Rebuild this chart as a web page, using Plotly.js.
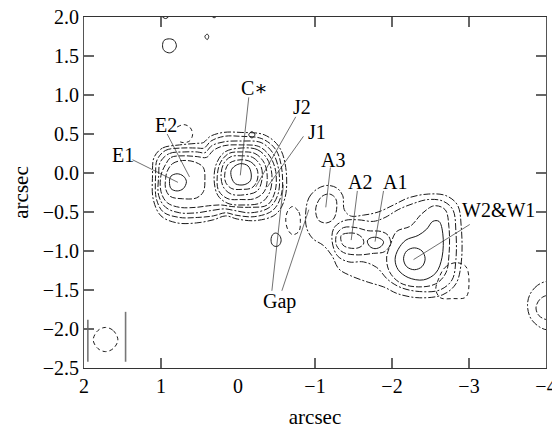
<!DOCTYPE html>
<html><head><meta charset="utf-8">
<script src="https://cdn.plot.ly/plotly-3.0.1.min.js"></script>
<style>html,body{margin:0;padding:0;background:#fff}#plot{width:552px;height:429px}</style>
</head><body><div id="plot"></div>
<script>
// ---- contour lines (arcsec) ----
// C* core and its nested contours
const c1X=[-0.04,-0.13,-0.17,-0.16,-0.08,0.03,0.08,0.09,0.04,-0.04];
const c1Y=[0.12,0.09,0.00,-0.10,-0.15,-0.14,-0.07,0.03,0.09,0.12];
const c2X=[-0.04,-0.17,-0.25,-0.25,-0.18,-0.05,0.08,0.16,0.17,0.12,-0.04];
const c2Y=[0.17,0.14,0.04,-0.09,-0.19,-0.21,-0.20,-0.12,0.00,0.12,0.17];
const c3X=[-0.04,-0.19,-0.30,-0.31,-0.25,-0.08,0.09,0.19,0.22,0.18,0.09,-0.04];
const c3Y=[0.22,0.20,0.08,-0.09,-0.23,-0.28,-0.27,-0.18,-0.02,0.13,0.21,0.22];
const c4X=[-0.04,-0.22,-0.34,-0.38,-0.34,-0.21,-0.04,0.13,0.25,0.27,0.23,0.12,-0.04];
const c4Y=[0.27,0.25,0.13,-0.06,-0.24,-0.33,-0.34,-0.33,-0.23,-0.05,0.13,0.25,0.27];
const c5X=[-0.04,-0.25,-0.38,-0.44,-0.41,-0.30,-0.08,0.13,0.26,0.31,0.28,0.17,-0.04];
const c5Y=[0.32,0.30,0.18,-0.02,-0.25,-0.38,-0.41,-0.39,-0.29,-0.09,0.12,0.27,0.32];
// contours enclosing both E and C
const s1X=[0.94,0.87,0.70,0.53,0.41,0.32,0.18,-0.04,-0.27,-0.41,-0.49,-0.48,-0.38,-0.14,0.08,0.22,0.38,0.54,0.76,0.92,1.00,1.00,0.94];
const s1Y=[0.11,0.20,0.22,0.21,0.20,0.29,0.35,0.36,0.34,0.22,0.02,-0.24,-0.41,-0.44,-0.43,-0.41,-0.42,-0.44,-0.44,-0.38,-0.24,-0.03,0.11];
const s2X=[1.01,0.89,0.70,0.53,0.43,0.34,0.18,-0.04,-0.30,-0.45,-0.53,-0.52,-0.41,-0.17,0.05,0.17,0.34,0.53,0.76,0.94,1.03,1.03,1.01];
const s2Y=[0.14,0.25,0.27,0.27,0.26,0.35,0.40,0.41,0.39,0.26,0.03,-0.27,-0.44,-0.51,-0.48,-0.46,-0.48,-0.51,-0.51,-0.44,-0.29,-0.03,0.14];
const s3X=[1.05,0.94,0.74,0.53,0.44,0.35,0.18,-0.04,-0.31,-0.49,-0.57,-0.56,-0.45,-0.21,0.03,0.16,0.32,0.53,0.76,0.97,1.06,1.07,1.05];
const s3Y=[0.17,0.29,0.32,0.32,0.32,0.41,0.47,0.47,0.44,0.30,0.04,-0.29,-0.48,-0.56,-0.54,-0.51,-0.55,-0.57,-0.57,-0.50,-0.33,-0.03,0.17];
const s4X=[1.09,0.98,0.76,0.54,0.45,0.36,0.19,-0.04,-0.34,-0.53,-0.62,-0.61,-0.49,-0.23,0.01,0.16,0.32,0.54,0.79,1.00,1.10,1.11,1.09];
const s4Y=[0.20,0.32,0.36,0.38,0.39,0.47,0.52,0.52,0.49,0.34,0.07,-0.32,-0.53,-0.61,-0.59,-0.55,-0.60,-0.64,-0.64,-0.55,-0.34,-0.03,0.20];
// E1 / E2
const e1X=[0.79,0.71,0.67,0.71,0.79,0.87,0.89,0.87,0.79];
const e1Y=[-0.01,-0.04,-0.11,-0.20,-0.23,-0.20,-0.11,-0.04,-0.01];
const e2X=[0.92,0.85,0.72,0.56,0.45,0.43,0.45,0.54,0.72,0.88,0.94,0.94,0.92];
const e2Y=[0.02,0.12,0.16,0.14,0.07,-0.09,-0.24,-0.32,-0.33,-0.30,-0.20,-0.07,0.02];
// A3, A2, A1
const a3X=[-1.02,-1.09,-1.19,-1.27,-1.28,-1.24,-1.15,-1.05,-1.01,-1.02];
const a3Y=[-0.41,-0.30,-0.27,-0.33,-0.47,-0.59,-0.64,-0.61,-0.51,-0.41];
const a2X=[-1.34,-1.44,-1.54,-1.62,-1.63,-1.56,-1.44,-1.36,-1.34];
const a2Y=[-0.80,-0.77,-0.78,-0.84,-0.91,-0.96,-0.96,-0.92,-0.80];
const a1X=[-1.68,-1.73,-1.82,-1.89,-1.86,-1.78,-1.71,-1.68];
const a1Y=[-0.87,-0.83,-0.83,-0.88,-0.94,-0.97,-0.94,-0.87];
const aw0X=[-1.28,-1.37,-1.53,-1.69,-1.86,-1.95,-1.98,-1.90,-1.76,-1.56,-1.37,-1.28,-1.28];
const aw0Y=[-0.79,-0.70,-0.70,-0.74,-0.75,-0.80,-0.91,-1.01,-1.03,-1.05,-1.02,-0.93,-0.79];
const aw1X=[-1.22,-1.25,-1.38,-1.56,-1.76,-1.91,-2.08,-2.28,-2.47,-2.66,-2.79,-2.83,-2.83,-2.78,-2.62,-2.36,-2.12,-1.95,-1.80,-1.63,-1.44,-1.29,-1.22];
const aw1Y=[-0.85,-0.70,-0.61,-0.60,-0.62,-0.57,-0.47,-0.39,-0.34,-0.36,-0.47,-0.75,-1.11,-1.37,-1.50,-1.52,-1.47,-1.37,-1.21,-1.14,-1.14,-1.06,-0.85];
const aw2X=[-0.88,-0.92,-1.02,-1.15,-1.28,-1.36,-1.38,-1.46,-1.63,-1.82,-2.02,-2.21,-2.47,-2.70,-2.85,-2.90,-2.90,-2.83,-2.66,-2.36,-2.08,-1.89,-1.69,-1.47,-1.31,-1.22,-1.11,-0.97,-0.89,-0.88];
const aw2Y=[-0.50,-0.32,-0.21,-0.16,-0.19,-0.29,-0.47,-0.55,-0.54,-0.50,-0.41,-0.32,-0.27,-0.29,-0.41,-0.70,-1.14,-1.42,-1.56,-1.60,-1.55,-1.46,-1.40,-1.32,-1.23,-1.06,-0.93,-0.84,-0.70,-0.50];
// W2 & W1
const w1X=[-2.29,-2.39,-2.43,-2.39,-2.29,-2.19,-2.15,-2.19,-2.29];
const w1Y=[-0.96,-1.00,-1.10,-1.20,-1.24,-1.20,-1.10,-1.00,-0.96];
const w2X=[-2.08,-2.18,-2.34,-2.45,-2.53,-2.61,-2.66,-2.65,-2.57,-2.41,-2.21,-2.08,-2.04,-2.08];
const w2Y=[-0.98,-0.86,-0.80,-0.72,-0.62,-0.62,-0.78,-1.08,-1.28,-1.37,-1.34,-1.24,-1.11,-0.98];
const w3X=[-1.98,-2.06,-2.24,-2.39,-2.55,-2.69,-2.74,-2.74,-2.70,-2.57,-2.34,-2.11,-1.97,-1.93,-1.98];
const w3Y=[-0.92,-0.75,-0.68,-0.52,-0.42,-0.47,-0.70,-1.05,-1.28,-1.42,-1.46,-1.41,-1.27,-1.09,-0.92];
// small features
const gapLoopX=[-0.49,-0.54,-0.56,-0.53,-0.48,-0.44,-0.43,-0.45,-0.49];
const gapLoopY=[-0.77,-0.80,-0.87,-0.93,-0.94,-0.91,-0.84,-0.79,-0.77];
const topCircX=[0.89,0.83,0.80,0.83,0.89,0.96,0.98,0.96,0.89];
const topCircY=[1.72,1.70,1.63,1.57,1.54,1.57,1.63,1.70,1.72];
const topTinyX=[0.40,0.38,0.40,0.43,0.40];
const topTinyY=[1.78,1.75,1.71,1.75,1.78];
const topEdgeAX=[0.31,0.27,0.31,0.35,0.31];
const topEdgeAY=[2.07,2.03,1.99,2.03,2.07];
const topEdgeBX=[0.94,0.88,0.94,1.01,0.94];
const topEdgeBY=[2.11,2.04,1.98,2.04,2.11];
const edgeOutX=[-4.02,-3.89,-3.79,-3.76,-3.80,-3.91,-4.02,-4.15,-4.22,-4.15,-4.02];
const edgeOutY=[-1.39,-1.44,-1.56,-1.70,-1.86,-1.97,-2.01,-1.96,-1.70,-1.44,-1.39];
const edgeInX=[-4.02,-3.92,-3.87,-3.91,-4.02,-4.13,-4.15,-4.13,-4.02];
const edgeInY=[-1.57,-1.62,-1.73,-1.83,-1.88,-1.83,-1.73,-1.62,-1.57];
// negative contours
const negE2X=[0.79,0.70,0.62,0.59,0.63,0.71,0.78];
const negE2Y=[0.59,0.62,0.58,0.49,0.41,0.39,0.41];
const negCX=[-0.18,-0.22,-0.18,-0.14,-0.18];
const negCY=[0.53,0.49,0.45,0.49,0.53];
const negGapX=[-0.71,-0.79,-0.81,-0.79,-0.71,-0.65,-0.62,-0.65,-0.71];
const negGapY=[-0.43,-0.50,-0.62,-0.75,-0.79,-0.73,-0.60,-0.48,-0.43];
const negWX=[-2.60,-2.69,-2.83,-2.96,-3.00,-2.96,-2.79,-2.63,-2.57,-2.60];
const negWY=[-1.37,-1.21,-1.15,-1.20,-1.41,-1.59,-1.61,-1.60,-1.50,-1.37];
// restoring beam and its markers
const beamX=[1.72,1.62,1.56,1.62,1.72,1.82,1.88,1.82,1.72];
const beamY=[-1.98,-2.02,-2.14,-2.25,-2.29,-2.25,-2.14,-2.02,-1.98];
const beamBarX=[1.95,1.46];
const beamBarTop=[-1.88,-1.78];
const beamBarBottom=[-2.42,-2.42];
// component labels
const labelText=["E1","E2","C\u2217","J2","J1","A3","A2","A1","W2&W1","Gap"];
const labelX=[1.50,0.94,-0.21,-0.83,-1.03,-1.24,-1.58,-2.04,-3.38,-0.54];
const labelY=[0.23,0.62,1.09,0.85,0.53,0.17,-0.11,-0.11,-0.48,-1.65];
const leadFromX=[1.37,0.92,-0.14,-0.75,-0.85,-1.20,-1.55,-1.89,-3.01,-0.44,-0.57];
const leadFromY=[0.17,0.50,0.97,0.72,0.47,0.07,-0.23,-0.23,-0.66,-1.51,-1.51];
const leadToX=[0.78,0.63,-0.03,-0.23,-0.38,-1.14,-1.47,-1.78,-2.28,-0.59,-0.92];
const leadToY=[-0.12,-0.05,-0.03,-0.18,-0.18,-0.44,-0.86,-0.88,-1.11,-0.15,-0.47];
// axis ticks: labels, and the inner tick marks that the frame shows
const xTickVals=[2,1,0,-1,-2,-3,-4];
const xTickText=["2","1","0","\u22121","\u22122","\u22123","\u22124"];
const yTickVals=[2.0,1.5,1.0,0.5,0.0,-0.5,-1.0,-1.5,-2.0,-2.5];
const xMarkBottom=[1,-1,-2,-3];
const xMarkTop=[1,-1,-2,-3];
const yMarkLeft=[1.5,1.0,0.5,0.0,-0.5,-1.0,-1.5,-2.0];
const yMarkRight=[1.5,1.0,0.0,-0.5,-1.0];

const X0=2, X1=-4, Y0=-2.5, Y1=2.0;
const SOLID='solid', DASHDOT='7px,2px,2px,2px', LDASH='6px,2px', NEG='4px,3px';
const contours=[
  [c1X,c1Y,SOLID],[c2X,c2Y,LDASH],[c3X,c3Y,DASHDOT],[c4X,c4Y,LDASH],[c5X,c5Y,DASHDOT],
  [s1X,s1Y,LDASH],[s2X,s2Y,DASHDOT],[s3X,s3Y,LDASH],[s4X,s4Y,DASHDOT],
  [e1X,e1Y,SOLID],[e2X,e2Y,LDASH],
  [a3X,a3Y,LDASH],[a2X,a2Y,LDASH],[a1X,a1Y,SOLID],[aw0X,aw0Y,LDASH],[aw1X,aw1Y,DASHDOT],[aw2X,aw2Y,DASHDOT],
  [w1X,w1Y,SOLID],[w2X,w2Y,SOLID],[w3X,w3Y,LDASH],
  [gapLoopX,gapLoopY,SOLID],[topCircX,topCircY,SOLID],[topTinyX,topTinyY,SOLID],
  [topEdgeAX,topEdgeAY,SOLID],[topEdgeBX,topEdgeBY,SOLID],
  [edgeOutX,edgeOutY,DASHDOT],[edgeInX,edgeInY,LDASH],
  [negE2X,negE2Y,NEG],[negCX,negCY,SOLID],[negGapX,negGapY,NEG],[negWX,negWY,NEG],
  [beamX,beamY,NEG]
];
const traces=contours.map(([x,y,d])=>({
  type:'scatter',mode:'lines',x:x,y:y,hoverinfo:'skip',showlegend:false,
  line:{color:'#1a1a1a',width:1,dash:d,shape:'spline',smoothing:1}
}));
// beam bars
const bx=[],by=[];
beamBarX.forEach((v,i)=>{bx.push(v,v,null);by.push(beamBarTop[i],beamBarBottom[i],null);});
traces.push({type:'scatter',mode:'lines',x:bx,y:by,hoverinfo:'skip',showlegend:false,line:{color:'#777',width:1.6}});
// leader lines
const lx=[],ly=[];
leadFromX.forEach((v,i)=>{lx.push(v,leadToX[i],null);ly.push(leadFromY[i],leadToY[i],null);});
traces.push({type:'scatter',mode:'lines',x:lx,y:ly,hoverinfo:'skip',showlegend:false,line:{color:'#333',width:0.7}});

// inside tick marks as frame shapes (about 10 px long)
const TW=10/462, TH=10/351;
const tickLine={color:'#666',width:2};
const shapes=[];
xMarkBottom.forEach(v=>shapes.push({type:'line',xref:'x',yref:'paper',x0:v,x1:v,y0:0,y1:TH,line:tickLine,layer:'above'}));
xMarkTop.forEach(v=>shapes.push({type:'line',xref:'x',yref:'paper',x0:v,x1:v,y0:1,y1:1-TH,line:tickLine,layer:'above'}));
yMarkLeft.forEach(v=>shapes.push({type:'line',xref:'paper',yref:'y',x0:0,x1:TW,y0:v,y1:v,line:tickLine,layer:'above'}));
yMarkRight.forEach(v=>shapes.push({type:'line',xref:'paper',yref:'y',x0:1,x1:1-TW,y0:v,y1:v,line:tickLine,layer:'above'}));

const FONT='"Liberation Serif","DejaVu Serif",serif';
const annotations=labelText.map((t,i)=>({x:labelX[i],y:labelY[i],xref:'x',yref:'y',text:t,showarrow:false,
  font:{family:FONT,size:20,color:'#000'},xanchor:'center',yanchor:'middle'}));

const layout={
  width:552,height:429,margin:{l:84,r:6,t:17,b:61},
  paper_bgcolor:'#fff',plot_bgcolor:'#fff',showlegend:false,
  font:{family:FONT,size:20,color:'#000'},
  xaxis:{range:[X0,X1],tickmode:'array',tickvals:xTickVals,ticktext:xTickText,ticks:'',
    showgrid:false,zeroline:false,showline:true,linecolor:'#333',linewidth:1,mirror:true,
    ticklabeloverflow:'allow',
    tickfont:{family:FONT,size:20,color:'#000'},
    title:{text:'arcsec',font:{family:FONT,size:21,color:'#000'},standoff:13}},
  yaxis:{range:[Y0,Y1],tickmode:'array',tickvals:yTickVals,tickformat:'.1f',ticks:'',
    showgrid:false,zeroline:false,showline:true,linecolor:'#555',linewidth:1,mirror:true,
    tickfont:{family:FONT,size:20,color:'#000'},
    title:{text:'arcsec',font:{family:FONT,size:21,color:'#000'},standoff:8}},
  shapes:shapes,
  annotations:annotations
};
Plotly.newPlot('plot',traces,layout,{displayModeBar:false,staticPlot:true});
</script></body></html>
